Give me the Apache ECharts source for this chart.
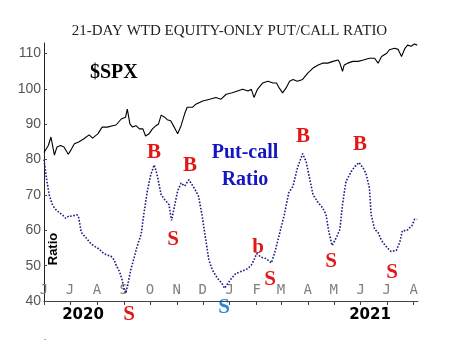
<!DOCTYPE html>
<html><head><meta charset="utf-8">
<script src="https://cdn.jsdelivr.net/npm/echarts@6/dist/echarts.min.js"></script>
<style>html,body{margin:0;padding:0;background:#fff}#c{width:459px;height:343px}</style>
</head><body><div id="c"></div>
<script>
// x = days since 1 Jun 2020
const monthTickDays = [0,30,61,92,122,153,183,214,245,273,304,334,365,395,426];
const monthTickLabels = ['J','J','A','S','O','N','D','J','F','M','A','M','J','J','A'];
const yTicks = [40,50,60,70,80,90,100,110];

const pcDays = [0,3,6,10,15,21,25,29,32,38,40,43,48,54,60,63,69,73,77,81,83,87,90,92,94,96,100,104,107,112,115,119,123,127,130,135,139,144,147,150,154,158,162,167,173,178,182,186,190,194,200,205,208,212,216,221,229,235,239,242,245,250,256,262,266,271,277,282,287,292,298,302,306,310,316,321,325,328,332,337,341,344,348,354,358,363,368,371,375,377,381,385,389,395,400,406,410,413,418,424,427,430];
const pcValues = [80,74.5,70,67,65.5,64.4,63.4,64.1,64,64.4,63.6,59.4,58,56.2,55.2,54.8,53.4,53,52.7,51.6,50.2,48.3,46,43.6,42.2,44,48.8,52.4,55.2,58.9,64.5,71,75.7,78.5,76.1,70.1,68.7,67.3,62.8,66.4,71.1,73.4,72.5,74.3,72,69.7,64.5,58,51.6,48.8,46.4,45,43.6,45,46.4,47.8,48.5,49.2,50.2,51.6,53.4,52.4,52,50.8,53.8,58.6,64.5,70.6,72.5,77.6,81.7,79.5,74.8,70.1,67.8,66.4,64.5,59.9,55.7,58,60.3,67.3,73.8,76.6,78,79.2,77.5,76.1,72,64.5,60.3,59.4,57.1,55.2,54,54.3,56.6,59.9,59.9,61.3,63.1,63.1];

const spxDays = [0,2,5,8,10,12,15,19,23,25,28,31,35,40,46,52,56,62,67,73,79,83,89,94,96,99,102,106,110,114,117,121,125,129,132,135,139,142,146,150,154,158,162,165,171,175,183,191,198,204,210,217,223,229,235,239,242,246,252,258,264,268,271,275,279,283,287,292,298,304,310,316,321,327,333,339,341,344,346,350,356,362,368,375,381,385,389,395,398,404,408,412,416,419,423,427,430];
const spxValues = [82,82.2,84,86.4,85.9,81.3,83.6,84,83.6,84,81.5,82.7,84.5,85,85.9,87,86.1,87.3,89.2,89.2,89.6,89.8,91.5,92,94.3,90.1,89.2,89.6,88.7,88.7,86.7,87.3,88.7,89.6,90.1,92.6,92,91.3,91,89.2,87.3,89.6,92.9,94.8,94.8,95.7,96.6,97.1,97.6,97.1,98.5,98.9,99.4,99.9,99.4,99.9,97.6,99.9,101.7,102.2,101.7,101.7,100.3,98.9,100.3,102.2,102.7,102.2,102.7,104.5,105.9,106.8,107.3,107.3,107.8,108.2,107.3,105,106.8,107.3,107.8,107.8,108.2,108.7,108.7,107.3,109.2,110.1,111.1,111.5,111.2,109.2,111.5,112.4,112.1,112.7,112.4];

const chart = echarts.init(document.getElementById('c'), null, {renderer:'canvas'});
const red = '#e01818';
function letter(t, x, y, color, size) {
  return {type:'text', x:x, y:y, style:{text:t, fill:color||red, font:'bold '+(size||21)+'px "Liberation Serif"', textAlign:'center', textVerticalAlign:'middle'}};
}
chart.setOption({
  animation:false,
  backgroundColor:'#fff',
  title:{text:'21-DAY WTD EQUITY-ONLY PUT/CALL RATIO', left:'center', top:19,
    textStyle:{fontFamily:'Liberation Serif', fontSize:15, fontWeight:'normal', color:'#222'}},
  grid:{left:44, right:41, top:43, bottom:42},
  xAxis:{type:'value', min:0, max:431,
    splitLine:{show:false},
    axisLine:{lineStyle:{color:'#444', width:1}},
    axisTick:{show:true, inside:false, length:4, customValues:monthTickDays, lineStyle:{color:'#444'}},
    axisLabel:{inside:true, margin:4, customValues:monthTickDays,
      formatter:function(v){const i=monthTickDays.indexOf(v);return i>=0?monthTickLabels[i]:'';},
      fontFamily:'DejaVu Sans Mono', fontSize:14, color:'#808080'}},
  yAxis:{type:'value', min:40, max:113,
    splitLine:{show:false},
    axisLine:{show:true, lineStyle:{color:'#222', width:1}},
    axisTick:{show:true, inside:true, length:3, customValues:yTicks, lineStyle:{color:'#444'}},
    axisLabel:{margin:3, customValues:yTicks, fontFamily:'Liberation Sans', fontSize:14, color:'#555'}},
  series:[
    {type:'line', name:'$SPX', data:spxDays.map((d,i)=>[d,spxValues[i]]), showSymbol:false,
      lineStyle:{color:'#000', width:1.1}},
    {type:'line', name:'Put-call Ratio', data:pcDays.map((d,i)=>[d,pcValues[i]]), showSymbol:false,
      lineStyle:{color:'#1c1c80', width:1.6, type:'dotted'}}
  ],
  graphic:[
    {type:'text', x:90, y:73, style:{text:'$SPX', fill:'#000', font:'bold 20px "Liberation Serif"', textAlign:'left', textVerticalAlign:'middle'}},
    {type:'text', x:245, y:153, style:{text:'Put-call', fill:'#1515c8', font:'bold 20px "Liberation Serif"', textAlign:'center', textVerticalAlign:'middle'}},
    {type:'text', x:245, y:180, style:{text:'Ratio', fill:'#1515c8', font:'bold 20px "Liberation Serif"', textAlign:'center', textVerticalAlign:'middle'}},
    {type:'text', x:53, y:249, rotation:Math.PI/2, style:{text:'Ratio', fill:'#000', font:'bold 13px "Liberation Sans"', textAlign:'center', textVerticalAlign:'middle'}},
    {type:'text', x:83, y:315, style:{text:'2020', fill:'#000', font:'bold 15px "DejaVu Sans"', textAlign:'center', textVerticalAlign:'middle'}},
    {type:'text', x:370, y:315, style:{text:'2021', fill:'#000', font:'bold 15px "DejaVu Sans"', textAlign:'center', textVerticalAlign:'middle'}},
    {type:'text', x:45, y:339, style:{text:'-', fill:'#777', font:'8px "Liberation Sans"', textAlign:'center', textVerticalAlign:'middle'}},
    letter('B',154,153), letter('B',190,166), letter('S',173,240), letter('S',129,315),
    letter('S',224,308,'#2a8ad8'), letter('b',258,248), letter('S',270,280),
    letter('B',303,137), letter('S',331,262), letter('B',360,145), letter('S',392,273)
  ]
});
</script></body></html>
